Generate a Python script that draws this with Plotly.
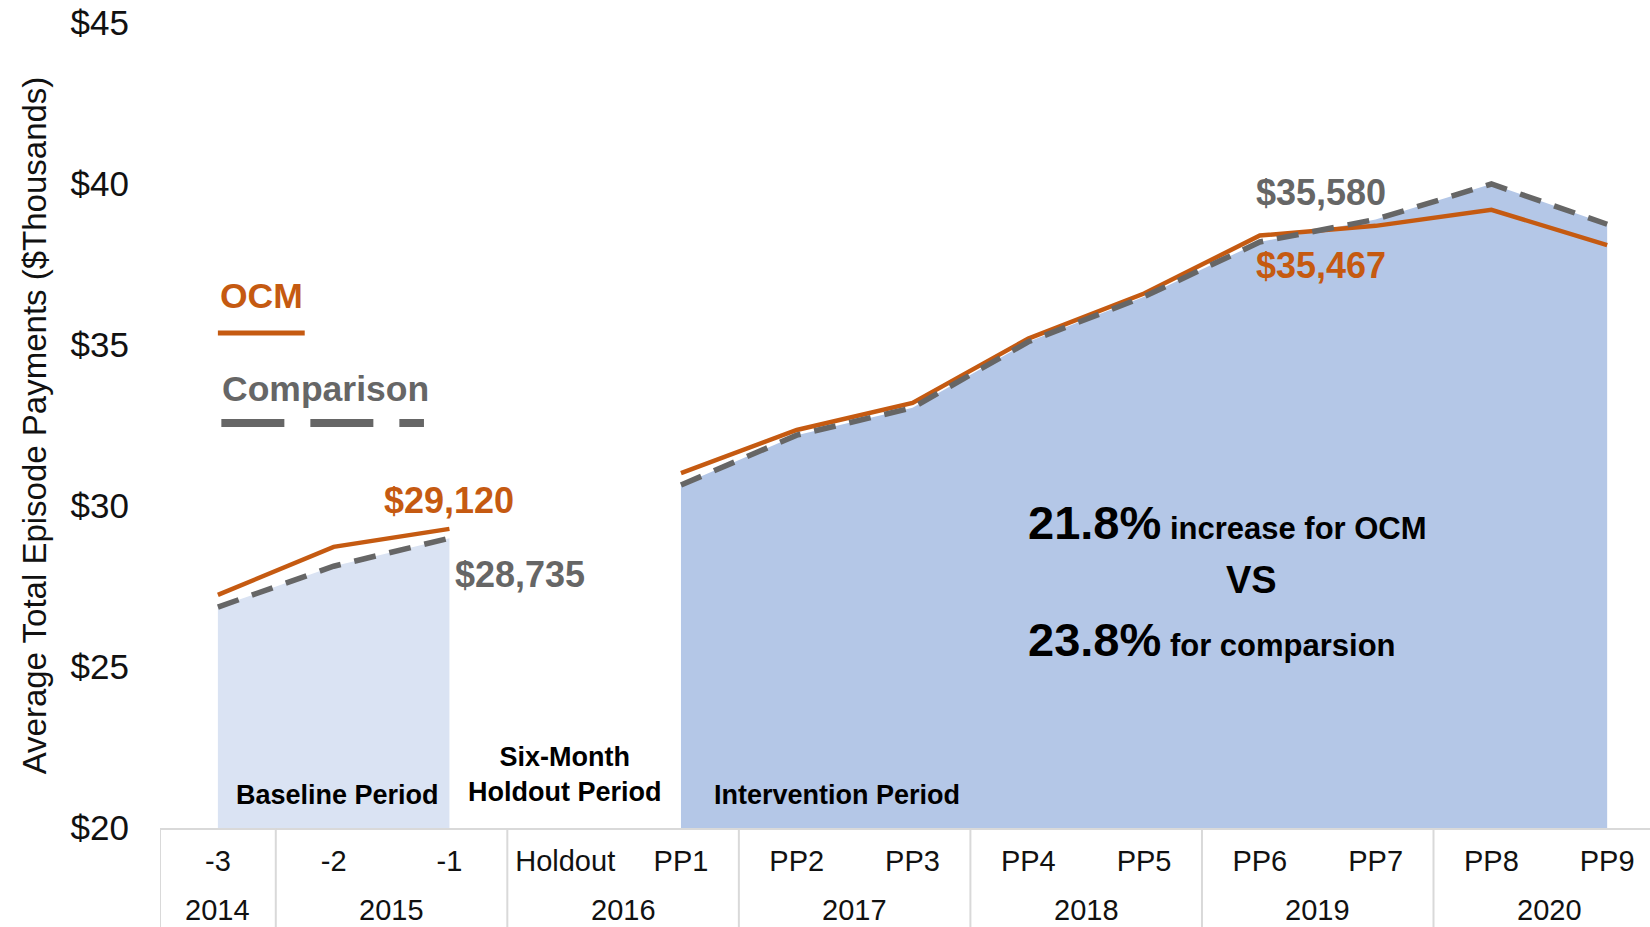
import plotly.graph_objects as go

# ---------------- data ----------------
categories = ["-3", "-2", "-1", "Holdout", "PP1", "PP2", "PP3", "PP4", "PP5", "PP6", "PP7", "PP8", "PP9"]
periods = ["Baseline"] * 3 + ["Holdout"] + ["Intervention"] * 9
ocm = [27.24, 28.73, 29.29, None, 31.02, 32.36, 33.20, 35.20, 36.60, 38.40, 38.70, 39.20, 38.10]
comparison = [26.86, 28.13, 29.00, None, 30.65, 32.20, 33.05, 35.10, 36.50, 38.20, 38.90, 40.00, 38.75]
years = ["2014", "2015", "2016", "2017", "2018", "2019", "2020"]
year_spans = [1, 2, 2, 2, 2, 2, 2]

ocm_baseline_label = "$29,120"
comp_baseline_label = "$28,735"
comp_interv_label = "$35,580"
ocm_interv_label = "$35,467"
ocm_pct = "21.8%"
comp_pct = "23.8%"

# ---------------- style ----------------
ORANGE = "#C55A11"
GRAY = "#666666"
BOLD = "Liberation Sans Narrow, Arial Narrow, Liberation Sans, Arial, sans-serif"
REG = "Liberation Sans, Arial, sans-serif"
fill_colors = {"Baseline": "#DAE3F3", "Intervention": "#B4C7E7"}

x = list(range(len(categories)))

fig = go.Figure()

for period, color in fill_colors.items():
    idx = [i for i, p in enumerate(periods) if p == period]
    fig.add_trace(go.Scatter(
        x=[x[i] for i in idx], y=[comparison[i] for i in idx],
        mode="lines", line=dict(width=0), fill="tozeroy", fillcolor=color,
        hoverinfo="skip", showlegend=False))

fig.add_trace(go.Scatter(x=x, y=ocm, mode="lines", name="OCM",
                         line=dict(color=ORANGE, width=4.5), connectgaps=False, showlegend=False))
fig.add_trace(go.Scatter(x=x, y=comparison, mode="lines", name="Comparison",
                         line=dict(color=GRAY, width=5.5, dash="22px,14px"), connectgaps=False,
                         showlegend=False))

ann = []
bi = max(i for i, p in enumerate(periods) if p == "Baseline")

ann.append(dict(x=x[bi], y=ocm[bi], text="<b>%s</b>" % ocm_baseline_label, showarrow=False,
                xanchor="center", yanchor="bottom", yshift=6,
                font=dict(family=BOLD, size=36, color=ORANGE)))
ann.append(dict(x=x[bi], y=comparison[bi], text="<b>%s</b>" % comp_baseline_label, showarrow=False,
                xanchor="left", yanchor="middle", xshift=4, yshift=-36,
                font=dict(family=BOLD, size=36, color=GRAY)))
ann.append(dict(x=9.53, y=39.75, text="<b>%s</b>" % comp_interv_label, showarrow=False,
                xanchor="center", yanchor="middle",
                font=dict(family=BOLD, size=36, color=GRAY)))
ann.append(dict(x=9.53, y=37.48, text="<b>%s</b>" % ocm_interv_label, showarrow=False,
                xanchor="center", yanchor="middle",
                font=dict(family=BOLD, size=36, color=ORANGE)))

# summary text
ann.append(dict(x=6.98, y=29.50, xanchor="left", yanchor="middle", showarrow=False,
                text="<b><span style='font-size:47px'>%s</span> increase for OCM</b>" % ocm_pct,
                font=dict(family=BOLD, size=31, color="black")))
ann.append(dict(x=8.93, y=27.70, xanchor="center", yanchor="middle", showarrow=False,
                text="<b>VS</b>", font=dict(family=BOLD, size=38, color="black")))
ann.append(dict(x=6.98, y=25.85, xanchor="left", yanchor="middle", showarrow=False,
                text="<b><span style='font-size:47px'>%s</span> for comparsion</b>" % comp_pct,
                font=dict(family=BOLD, size=31, color="black")))

# period labels
ann.append(dict(x=1.03, y=21.02, text="<b>Baseline Period</b>", showarrow=False,
                font=dict(family=BOLD, size=27, color="black")))
ann.append(dict(x=2.99, y=21.65, text="<b>Six-Month<br>Holdout Period</b>", showarrow=False,
                font=dict(family=BOLD, size=27, color="black")))
ann.append(dict(x=5.35, y=21.02, text="<b>Intervention Period</b>", showarrow=False,
                font=dict(family=BOLD, size=27, color="black")))

# legend text
ann.append(dict(x=0.0, y=36.52, xanchor="left", yanchor="middle", text="<b>OCM</b>", showarrow=False,
                font=dict(family=REG, size=35.5, color=ORANGE)))
ann.append(dict(x=0.02, y=33.63, xanchor="left", yanchor="middle", text="<b>Comparison</b>", showarrow=False,
                font=dict(family=REG, size=35.5, color=GRAY)))

# year row + separators
shapes = []
start = 0
bounds = [-0.5]
for yr, span in zip(years, year_spans):
    center = start + (span - 1) / 2
    ann.append(dict(x=center, y=-0.102, xref="x", yref="paper", text=yr, showarrow=False,
                    xanchor="center", yanchor="middle", font=dict(family=REG, size=29, color="#111")))
    start += span
    bounds.append(start - 0.5)
for b in bounds:
    shapes.append(dict(type="line", xref="x", yref="paper", x0=b, x1=b, y0=0, y1=-0.13,
                       line=dict(color="#D9D9D9", width=2)))

# legend line samples
shapes.append(dict(type="line", xref="x", yref="y", x0=0.0, x1=0.75, y0=35.37, y1=35.37,
                   line=dict(color=ORANGE, width=5)))
shapes.append(dict(type="line", xref="x", yref="y", x0=0.03, x1=1.78, y0=32.58, y1=32.58,
                   line=dict(color=GRAY, width=8, dash="63px,26px")))

fig.update_layout(
    width=1650, height=927,
    margin=dict(l=160, r=0, t=23, b=99),
    plot_bgcolor="white", paper_bgcolor="white",
    annotations=ann, shapes=shapes,
    showlegend=False,
)
fig.update_xaxes(range=[-0.5, 12.37], tickmode="array", tickvals=x, ticktext=categories,
                 showgrid=False, zeroline=False, showline=True, linecolor="#D9D9D9", linewidth=2,
                 ticks="", ticklabelstandoff=6,
                 tickfont=dict(family=REG, size=29, color="#111"))
fig.update_yaxes(range=[20, 45], dtick=5, tickprefix="$", showgrid=False, zeroline=False,
                 showline=False, ticks="", ticklabelstandoff=30,
                 tickfont=dict(family=REG, size=35, color="#111"),
                 title=dict(text="Average Total Episode Payments ($Thousands)",
                            font=dict(family=REG, size=33, color="#111"), standoff=14))

fig.write_html("out.html", config={"displayModeBar": False},
               post_script="document.body.style.margin='0';document.body.style.overflow='hidden';")
